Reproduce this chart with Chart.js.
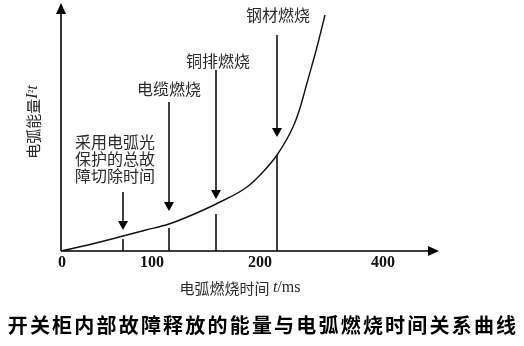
<!DOCTYPE html>
<html>
<head>
<meta charset="utf-8">
<script src="https://cdn.jsdelivr.net/npm/chart.js@4.4.0/dist/chart.umd.min.js"></script>
<style>
    html, body { margin: 0; padding: 0; background: #fff; }
    #wrap { width: 524px; height: 346px; }
</style>
</head>
<body>
<div id="wrap"><canvas id="arcChart" width="524" height="346"></canvas></div>
<script>
// Curve data (schematic time axis, energy in relative units)
const timeMs = [0, 31, 62, 85, 108, 131, 155, 186, 201, 216, 232, 239, 246, 256, 264];
const energy = [0, 7, 15, 21, 27, 36, 47, 64, 78, 96, 124, 143, 168, 204, 236];

// Tick marks along the time axis
const tickValues = [0, 91, 199, 322];
const tickLabels = ['0', '100', '200', '400'];

// Event markers
const markerTimes = [62, 108, 155, 216];
const markerNames = [
    ['采用电弧光', '保护的总故', '障切除时间'],
    ['电缆燃烧'],
    ['铜排燃烧'],
    ['钢材燃烧']
];
const arrowTop = [59, 149, 181, 216];
const arrowTip = [21, 40, 52, 114];
const stemTop = [12, 23, 37, 96];

const CJK = '"Noto Sans CJK SC", sans-serif';
const SERIF = '"Liberation Serif", "DejaVu Serif", serif';

function buildDatasets() {
    const sets = [{
        data: timeMs.map((t, i) => ({ x: t, y: energy[i] })),
        borderColor: '#111',
        borderWidth: 1.4,
        pointRadius: 0,
        cubicInterpolationMode: 'monotone',
        fill: false
    }];
    markerTimes.forEach((t, i) => {
        // arrow shaft
        sets.push({
            data: [{ x: t, y: arrowTop[i] }, { x: t, y: arrowTip[i] + 4 }],
            borderColor: '#111',
            borderWidth: 1.6,
            pointRadius: 0
        });
        // stem down to the time axis
        sets.push({
            data: [{ x: t, y: stemTop[i] }, { x: t, y: 0 }],
            borderColor: '#111',
            borderWidth: 1.6,
            pointRadius: 0
        });
    });
    return sets;
}

// draw a filled triangle with tip at (x, y) pointing in direction (dx, dy)
function arrowHead(ctx, x, y, dx, dy, len, half) {
    const bx = x - dx * len, by = y - dy * len;
    ctx.beginPath();
    ctx.moveTo(x, y);
    ctx.lineTo(bx - dy * half, by + dx * half);
    ctx.lineTo(bx + dy * half, by - dx * half);
    ctx.closePath();
    ctx.fill();
}

function drawMixed(ctx, parts, cx, cy) {
    let total = 0;
    parts.forEach(p => { ctx.font = p.font; total += ctx.measureText(p.text).width; });
    let x = cx - total / 2;
    ctx.textAlign = 'left';
    ctx.textBaseline = 'middle';
    parts.forEach(p => {
        ctx.font = p.font;
        ctx.fillText(p.text, x, cy);
        x += ctx.measureText(p.text).width;
    });
}

const decorPlugin = {
    id: 'decor',
    afterDatasetsDraw(chart) {
        const ctx = chart.ctx;
        const xs = chart.scales.x;
        const ys = chart.scales.y;
        const area = chart.chartArea;
        const x0 = xs.getPixelForValue(0);
        const y0 = ys.getPixelForValue(0);

        ctx.save();
        ctx.strokeStyle = '#000';
        ctx.fillStyle = '#000';
        ctx.lineWidth = 1.6;

        // axes with arrows
        ctx.beginPath();
        ctx.moveTo(x0, y0);
        ctx.lineTo(x0, area.top + 6);
        ctx.moveTo(x0, y0);
        ctx.lineTo(area.right - 6, y0);
        ctx.stroke();
        arrowHead(ctx, x0, area.top, 0, -1, 11, 5);
        arrowHead(ctx, area.right, y0, 1, 0, 11, 5);

        // marker arrow heads
        markerTimes.forEach((t, i) => {
            arrowHead(ctx, xs.getPixelForValue(t), ys.getPixelForValue(arrowTip[i]), 0, 1, 9, 5);
        });

        // tick labels
        ctx.fillStyle = '#111';
        ctx.font = 'bold 16px ' + SERIF;
        ctx.textAlign = 'center';
        ctx.textBaseline = 'middle';
        tickValues.forEach((v, i) => {
            ctx.fillText(tickLabels[i], xs.getPixelForValue(v) + (i === 0 ? 1 : 0), y0 + 12);
        });

        // marker labels
        ctx.fillStyle = '#2a2a2a';
        ctx.font = '16px ' + CJK;
        const labelPos = [[115, 142, 17], [169, 89, 0], [218, 61, 0], [278, 15, 0]];
        markerNames.forEach((lines, i) => {
            const p = labelPos[i];
            lines.forEach((s, k) => ctx.fillText(s, p[0], p[1] + k * p[2]));
        });

        // axis titles
        drawMixed(ctx, [
            { text: '电弧燃烧时间 ', font: '15px ' + CJK },
            { text: 't', font: 'italic 16px ' + SERIF },
            { text: '/ms', font: '16px ' + SERIF }
        ], 240, 288);

        ctx.save();
        ctx.translate(33, 122);
        ctx.rotate(-Math.PI / 2);
        drawMixed(ctx, [
            { text: '电弧能量', font: '15px ' + CJK },
            { text: 'I', font: 'italic 16px ' + SERIF },
            { text: '²', font: '12px ' + SERIF },
            { text: 't', font: 'italic 16px ' + SERIF }
        ], 0, 0);
        ctx.restore();

        // figure caption
        ctx.fillStyle = '#000';
        ctx.font = 'bold 20px ' + CJK;
        ctx.letterSpacing = '2.2px';
        ctx.textAlign = 'center';
        ctx.fillText('开关柜内部故障释放的能量与电弧燃烧时间关系曲线', 263, 325);
        ctx.restore();
    }
};

new Chart(document.getElementById('arcChart'), {
    type: 'line',
    data: { datasets: buildDatasets() },
    options: {
        responsive: false,
        animation: false,
        layout: { padding: { left: 61, top: 3, right: 85, bottom: 95 } },
        plugins: {
            legend: { display: false },
            tooltip: { enabled: false }
        },
        scales: {
            x: { type: 'linear', min: 0, max: 378, display: false },
            y: { type: 'linear', min: 0, max: 248, display: false }
        },
        elements: { line: { borderCapStyle: 'butt' } }
    },
    plugins: [decorPlugin]
});
</script>
</body>
</html>
